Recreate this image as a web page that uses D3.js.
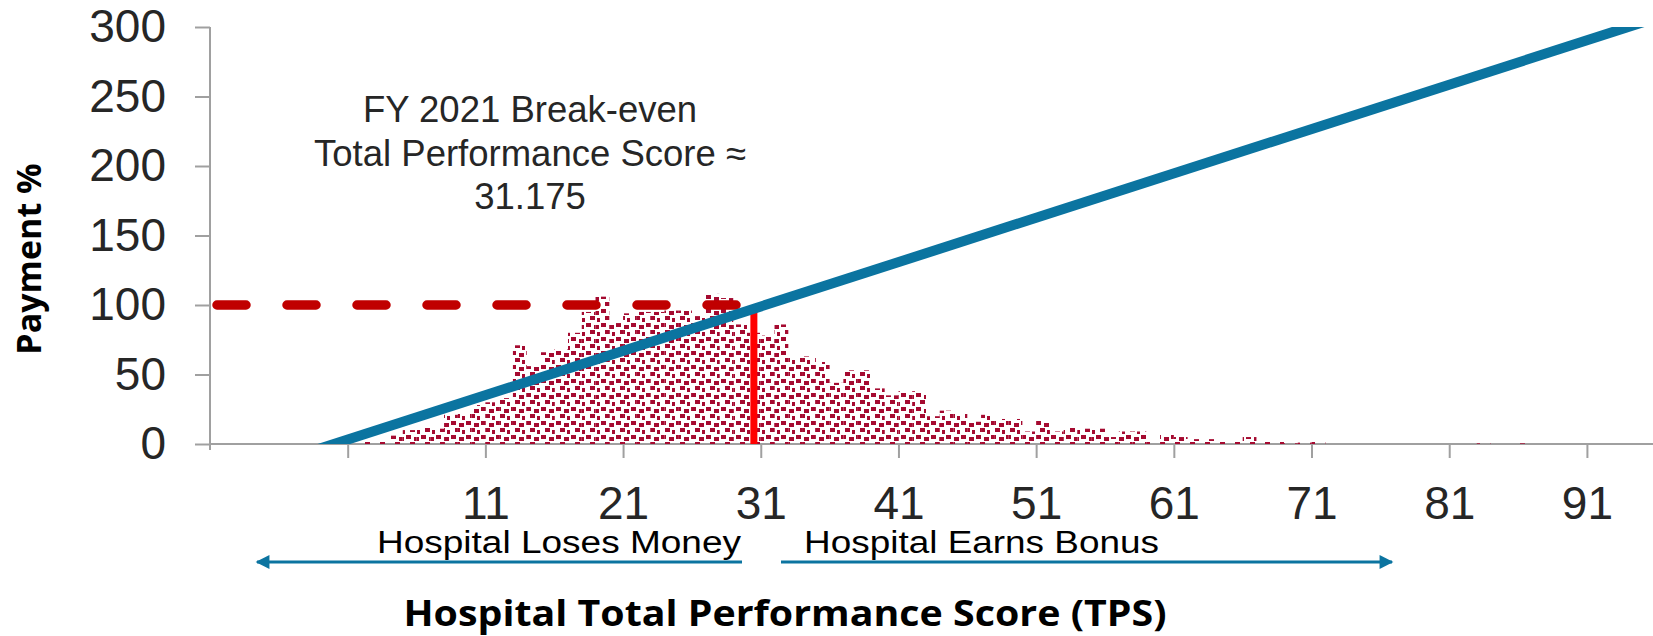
<!DOCTYPE html>
<html>
<head>
<meta charset="utf-8">
<script src="https://cdn.jsdelivr.net/npm/d3@7"></script>
<style>
  body { margin: 0; background: #fff; }
  text { font-family: "Liberation Sans", Arial, sans-serif; fill: #262626; }
  .bold { font-family: "Open Sans", sans-serif; font-weight: 700; fill: #000; }
</style>
</head>
<body>
<div class="tps-chart"></div>
<script>
/*global d3 */

// histogram: left edge of each 1-point TPS bin and the bar height
const binStarts = [2, 3, 4, 5, 6, 7, 8, 9, 10, 11, 12, 13, 14, 15, 16, 17, 18, 19, 20,
    21, 22, 23, 24, 25, 26, 27, 28, 29, 30, 31, 32, 33, 34, 35, 36, 37, 38, 39, 40,
    41, 42, 43, 44, 45, 46, 47, 48, 49, 50, 51, 52, 53, 54, 55, 56, 57, 58, 59, 60,
    61, 62, 63, 64, 65, 66, 67, 68, 69, 70, 71, 83, 86];
const hospitalCounts = [1.5, 1.5, 6, 10, 12, 11, 21, 22, 28, 30, 33, 71, 56, 66, 68, 80, 95, 106, 87,
    94, 95, 95, 96, 96, 92, 108, 105, 86, 80, 78, 86, 62, 63, 59, 44, 53, 53, 40, 35,
    38, 38, 20, 24, 22, 16, 21, 18, 18, 9, 17, 9, 12, 11, 11, 5, 9, 9, 2, 7,
    5, 3.5, 3.5, 1.5, 2, 5, 1.5, 1.5, 0.5, 1, 2, 0.5, 0.5];

// payment line (TPS, payment %), straight line through these two points
const paymentTps = [0, 94];
const paymentPct = [0, 300];

const breakEven = 31.175;      // value in the annotation
const breakEvenMark = 30.5;    // where the marker sits on the axis
const referencePct = 100;

const xTicks = [1, 11, 21, 31, 41, 51, 61, 71, 81, 91];
const xTickLabels = ["", "11", "21", "31", "41", "51", "61", "71", "81", "91"];
const yTicks = [0, 50, 100, 150, 200, 250, 300];

const annotationLines = ["FY 2021 Break-even", "Total Performance Score \u2248", String(breakEven)];

const width = 1653;
const height = 636;
const blue = "#0b74a0";

const svg = d3.select(".tps-chart").append("svg")
    .attr("width", width)
    .attr("height", height)
    .attr("viewBox", [0, 0, width, height]);

const x = d3.scaleLinear().domain([-9, 95.8]).range([210, 1653]);
const y = d3.scaleLinear().domain([0, 300]).range([444, 27]);

/* confetti fill like the Excel pattern */
const defs = svg.append("defs");
const pat = defs.append("pattern")
    .attr("id", "confetti")
    .attr("patternUnits", "userSpaceOnUse")
    .attr("width", 15).attr("height", 14);
[[1, 1], [9, 3], [5, 8], [12, 10]].forEach(([px, py]) => {
    pat.append("rect").attr("x", px).attr("y", py)
        .attr("width", 4.5).attr("height", 4)
        .attr("fill", "#a50a30")
        .attr("shape-rendering", "crispEdges");
});

/* axes */
const xAxis = d3.axisBottom(x)
    .tickValues(xTicks)
    .tickFormat((d, i) => xTickLabels[i])
    .tickSize(14)
    .tickSizeOuter(0)
    .tickPadding(28);

const yAxis = d3.axisLeft(y)
    .tickValues(yTicks)
    .tickSize(15)
    .tickSizeOuter(0)
    .tickPadding(29);

const gx = svg.append("g").attr("transform", `translate(0,${y(0)})`).call(xAxis);
const gy = svg.append("g").attr("transform", `translate(${x(-9)},0)`).call(yAxis);

[gx, gy].forEach(g => {
    g.select(".domain").remove();
    g.selectAll(".tick line").attr("stroke", "#a0a0a0").attr("stroke-width", 2);
    g.selectAll(".tick text")
        .attr("fill", "#262626")
        .style("font-family", "'Liberation Sans', Arial, sans-serif")
        .style("font-size", "46px");
});

svg.append("line")
    .attr("x1", x(-9)).attr("x2", width)
    .attr("y1", y(0)).attr("y2", y(0))
    .attr("stroke", "#a0a0a0").attr("stroke-width", 2);
svg.append("line")
    .attr("x1", x(-9)).attr("x2", x(-9))
    .attr("y1", y(300)).attr("y2", y(0) + 6)
    .attr("stroke", "#a0a0a0").attr("stroke-width", 2);

/* histogram bars */
svg.append("g")
    .selectAll("rect")
    .data(binStarts)
    .join("rect")
    .attr("x", d => x(d))
    .attr("width", d => x(d + 1) - x(d))
    .attr("y", (d, i) => y(hospitalCounts[i]))
    .attr("height", (d, i) => y(0) - y(hospitalCounts[i]))
    .attr("fill", "url(#confetti)");

/* 100% reference, dashed */
svg.append("line")
    .attr("x1", x(-9)).attr("x2", x(breakEvenMark))
    .attr("y1", y(referencePct)).attr("y2", y(referencePct))
    .attr("stroke", "#c00000")
    .attr("stroke-width", 9.5)
    .attr("stroke-linecap", "round")
    .attr("stroke-dasharray", "29 41")
    .attr("stroke-dashoffset", 63);

/* break-even marker */
const payAt = d3.scaleLinear().domain(paymentTps).range(paymentPct);
svg.append("line")
    .attr("x1", x(breakEvenMark)).attr("x2", x(breakEvenMark))
    .attr("y1", y(0)).attr("y2", y(payAt(breakEvenMark)))
    .attr("stroke", "#ff0000")
    .attr("stroke-width", 7);

/* payment line, extended and clipped to the plot */
defs.append("clipPath").attr("id", "plotClip")
    .append("rect")
    .attr("x", x(-9)).attr("y", y(300))
    .attr("width", width - x(-9)).attr("height", y(0) - y(300));

const lineEnds = [payAt.invert(-10), payAt.invert(310)];
svg.append("path")
    .datum(lineEnds.map(t => [t, payAt(t)]))
    .attr("clip-path", "url(#plotClip)")
    .attr("d", d3.line().x(d => x(d[0])).y(d => y(d[1])))
    .attr("fill", "none")
    .attr("stroke", blue)
    .attr("stroke-width", 10);

/* annotation */
svg.append("text")
    .attr("x", 530)
    .attr("text-anchor", "middle")
    .style("font-size", "36.5px")
    .selectAll("tspan")
    .data(annotationLines)
    .join("tspan")
    .attr("x", 530)
    .attr("y", (d, i) => 122 + i * 43.5)
    .text(d => d);

/* loses / earns arrows */
defs.append("marker")
    .attr("id", "arrowHead")
    .attr("viewBox", "0 0 10 10")
    .attr("refX", 9).attr("refY", 5)
    .attr("markerWidth", 5).attr("markerHeight", 4.6)
    .attr("markerUnits", "strokeWidth")
    .attr("orient", "auto")
    .append("path")
    .attr("d", "M0,0L10,5L0,10Z")
    .attr("fill", blue);

svg.append("line")
    .attr("x1", 742).attr("x2", 257)
    .attr("y1", 562).attr("y2", 562)
    .attr("stroke", blue).attr("stroke-width", 3)
    .attr("marker-end", "url(#arrowHead)");
svg.append("line")
    .attr("x1", 781).attr("x2", 1392)
    .attr("y1", 562).attr("y2", 562)
    .attr("stroke", blue).attr("stroke-width", 3)
    .attr("marker-end", "url(#arrowHead)");

svg.append("text")
    .attr("x", 377).attr("y", 553)
    .attr("textLength", 364).attr("lengthAdjust", "spacingAndGlyphs")
    .style("font-size", "31px")
    .style("fill", "#000")
    .text("Hospital Loses Money");
svg.append("text")
    .attr("x", 804).attr("y", 553)
    .attr("textLength", 355).attr("lengthAdjust", "spacingAndGlyphs")
    .style("font-size", "31px")
    .style("fill", "#000")
    .text("Hospital Earns Bonus");

/* axis titles */
svg.append("text")
    .attr("class", "bold")
    .attr("x", 785).attr("y", 626)
    .attr("text-anchor", "middle")
    .attr("textLength", 763).attr("lengthAdjust", "spacingAndGlyphs")
    .style("font-size", "35px")
    .text("Hospital Total Performance Score (TPS)");

svg.append("text")
    .attr("class", "bold")
    .attr("transform", "translate(41,259) rotate(-90)")
    .attr("text-anchor", "middle")
    .style("font-size", "34px")
    .text("Payment %");
</script>
</body>
</html>
